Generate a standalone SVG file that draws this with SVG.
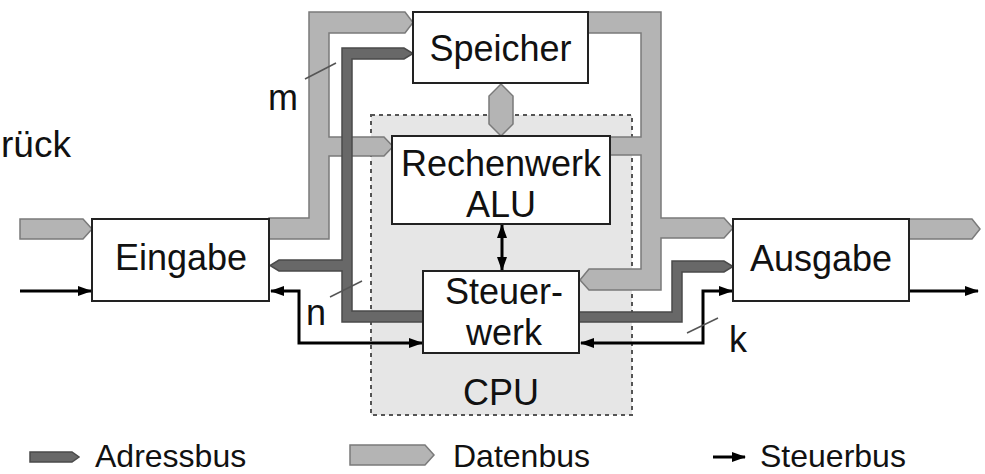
<svg xmlns="http://www.w3.org/2000/svg" width="985" height="474" viewBox="0 0 985 474">
<style>
text{font-family:"Liberation Sans",Arial,sans-serif;font-size:36px;fill:#111}
.box{fill:#fff;stroke:#222;stroke-width:2}
.data{fill:#b4b4b4;stroke:#7a7a7a;stroke-width:1.5;stroke-linejoin:miter}
.addr{fill:#686868;stroke:#4a4a4a;stroke-width:1.5}
.ctl{fill:none;stroke:#000;stroke-width:3}
.tick{stroke:#555;stroke-width:1.5}
.mid{text-anchor:middle}
.leg{font-size:32px}
</style>
<defs>
<marker id="ah" markerUnits="userSpaceOnUse" markerWidth="14" markerHeight="10" refX="13" refY="5" orient="auto-start-reverse" viewBox="0 0 14 10">
<path d="M0,0 L14,5 L0,10 z" fill="#000"/>
</marker>
</defs>
<rect width="985" height="474" fill="#fff"/>
<text x="1" y="157" style="font-size:37px">rück</text>
<g id="cpu">
<rect x="371" y="115" width="261" height="300" fill="#e6e6e6" stroke="#555" stroke-width="2" stroke-dasharray="4,4"/>
<text class="mid" x="501" y="405">CPU</text>
</g>
<g id="connectors">
<polygon class="data" points="269,218 309,218 309,12 405,12 413,22.5 405,33 329,33 329,137 384,137 393,146.5 384,156 329,156 329,239 269,239"/>
<polygon class="data" points="588,12 661,12 661,218 724,218 733,228 724,238 661,238 661,290 589,290 580,280 589,269 641,269 641,155 610,155 610,137 641,137 641,33 588,33"/>
<polygon class="data" points="501,84 513,96 513,124 501,136 489,124 489,96"/>
<polygon class="data" points="20,219 83,219 92,229 83,239 20,239"/>
<polygon class="data" points="909,219 972,219 980,229 972,239 909,239"/>
<polygon class="addr" points="423,322 342,322 342,271 279,271 270,265.5 279,260 342,260 342,48 404,48 413,53.5 404,59 352,59 352,311 423,311"/>
<polygon class="addr" points="579,312 672,312 672,261 724,261 733,266.5 724,272 682,272 682,322 579,322"/>
<path class="ctl" d="M20,291 H91" marker-end="url(#ah)"/>
<path class="ctl" d="M271,291 H299 V343 H422" marker-start="url(#ah)" marker-end="url(#ah)"/>
<path class="ctl" d="M581,343 H703 V291 H732" marker-start="url(#ah)" marker-end="url(#ah)"/>
<path class="ctl" d="M909,291 H978" marker-end="url(#ah)"/>
<path class="ctl" d="M502,225 V270" marker-start="url(#ah)" marker-end="url(#ah)"/>
<line class="tick" x1="305" y1="79" x2="336" y2="63"/>
<line class="tick" x1="330" y1="297" x2="362" y2="281"/>
<line class="tick" x1="687" y1="333" x2="718" y2="318"/>
</g>
<text x="268" y="110">m</text>
<text x="306" y="325">n</text>
<text x="729" y="352">k</text>
<g id="speicher">
<rect class="box" x="413" y="12" width="175" height="71"/>
<text class="mid" x="500.5" y="61">Speicher</text>
</g>
<g id="rechenwerk">
<rect class="box" x="392" y="136" width="218" height="88"/>
<text class="mid" x="501" y="176">Rechenwerk</text>
<text class="mid" x="501" y="217">ALU</text>
</g>
<g id="steuerwerk">
<rect class="box" x="423" y="271" width="156" height="82"/>
<text class="mid" x="504" y="304">Steuer-</text>
<text class="mid" x="504" y="345">werk</text>
</g>
<g id="eingabe">
<rect class="box" x="92" y="219" width="177" height="82"/>
<text class="mid" x="181" y="270">Eingabe</text>
</g>
<g id="ausgabe">
<rect class="box" x="733" y="219" width="176" height="82"/>
<text class="mid" x="821" y="271">Ausgabe</text>
</g>
<g id="legend">
<polygon class="addr" points="30,452 72,452 79,457 72,462 30,462"/>
<text class="leg" x="95" y="467">Adressbus</text>
<polygon class="data" points="350,445 425,445 434,455 425,465 350,465"/>
<text class="leg" x="453" y="467">Datenbus</text>
<path class="ctl" d="M713,457 H745" marker-end="url(#ah)"/>
<text class="leg" x="760" y="467">Steuerbus</text>
</g>
</svg>
